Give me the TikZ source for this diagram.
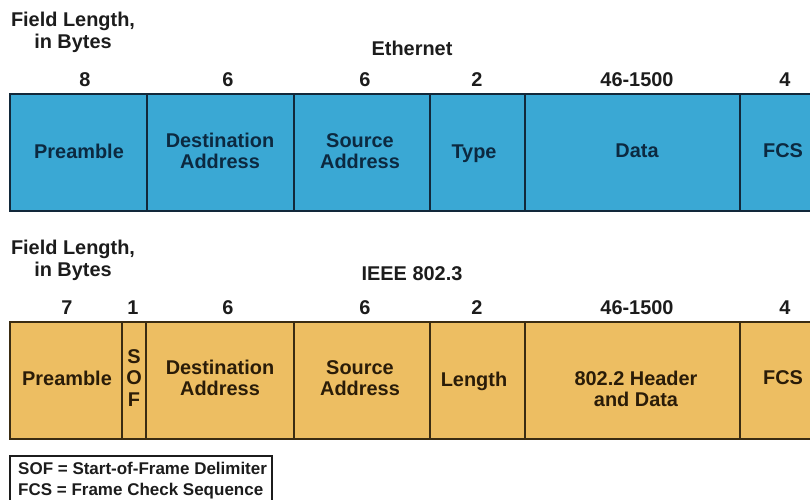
\documentclass[tikz,border=0pt]{standalone}
\usepackage{fontspec}
\setmainfont{Liberation Sans}
\definecolor{ethfill}{HTML}{3AA8D4}
\definecolor{ethline}{HTML}{12283A}
\definecolor{ethtext}{HTML}{0C2940}
\definecolor{ieeefill}{HTML}{EDBE62}
\definecolor{ieeeline}{HTML}{3A2C12}
\definecolor{ieeetext}{HTML}{2A1C08}
\definecolor{headtext}{HTML}{1C1C1C}

\begin{document}
\begin{tikzpicture}[x=0.03cm,y=-0.03cm,
	every node/.style={font=\bfseries\fontsize{17}{18.5}\selectfont,align=center,inner sep=0pt},
	head/.style={text=headtext},
	twoline/.style={font=\bfseries\fontsize{17}{19}\selectfont},
	ethlabel/.style={text=ethtext},
	ieeelabel/.style={text=ieeetext},
	ethbox/.style={draw=ethline,fill=ethfill,line width=1.5pt},
	ieeebox/.style={draw=ieeeline,fill=ieeefill,line width=1.5pt}]
	\useasboundingbox (0,0) rectangle (810,499);
	\clip (0,0) rectangle (810,499);
	
	%Ethernet frame
	\node[head,twoline] (ethhead) at (73,32) {Field Length,\\in Bytes};
	\node[head] (ethname) at (412,48) {Ethernet};
	\node[head] (ethn1) at (85,80) {8};
	\node[head] (ethn2) at (228,80) {6};
	\node[head] (ethn3) at (365,80) {6};
	\node[head] (ethn4) at (477,80) {2};
	\node[head] (ethn5) at (637,80) {46-1500};
	\node[head] (ethn6) at (785,80) {4};
	\filldraw[ethbox] (10,94) rectangle (840,211);	%runs off the right edge
	\draw[ethbox] (147,94)--(147,211);
	\draw[ethbox] (294,94)--(294,211);
	\draw[ethbox] (430,94)--(430,211);
	\draw[ethbox] (525,94)--(525,211);
	\draw[ethbox] (740,94)--(740,211);
	\node[ethlabel] (ethpre) at (79,151) {Preamble};
	\node[ethlabel] (ethdst) at (220,151) {Destination\\Address};
	\node[ethlabel] (ethsrc) at (360,151) {Source\\Address};
	\node[ethlabel] (ethtype) at (474,154) {Type};
	\node[ethlabel] (ethdata) at (637,151) {Data};
	\node[ethlabel] (ethfcs) at (783,151) {FCS};
	
	%IEEE 802.3 frame
	\node[head,twoline] (ieeehead) at (73,260) {Field Length,\\in Bytes};
	\node[head] (ieeename) at (412,274) {IEEE 802.3};
	\node[head] (ieeen1) at (67,308) {7};
	\node[head] (ieeen2) at (133,308) {1};
	\node[head] (ieeen3) at (228,308) {6};
	\node[head] (ieeen4) at (365,308) {6};
	\node[head] (ieeen5) at (477,308) {2};
	\node[head] (ieeen6) at (637,308) {46-1500};
	\node[head] (ieeen7) at (785,308) {4};
	\filldraw[ieeebox] (10,322) rectangle (840,439);
	\draw[ieeebox] (122,322)--(122,439);
	\draw[ieeebox] (146,322)--(146,439);
	\draw[ieeebox] (294,322)--(294,439);
	\draw[ieeebox] (430,322)--(430,439);
	\draw[ieeebox] (525,322)--(525,439);
	\draw[ieeebox] (740,322)--(740,439);
	\node[ieeelabel] (ieeepre) at (67,378) {Preamble};
	\node[ieeelabel] (ieeesof) at (134,378) {S\\O\\F};
	\node[ieeelabel] (ieeedst) at (220,378) {Destination\\Address};
	\node[ieeelabel] (ieeesrc) at (360,378) {Source\\Address};
	\node[ieeelabel] (ieeelen) at (474,381) {Length};
	\node[ieeelabel] (ieeedata) at (636,389) {802.2 Header\\and Data};
	\node[ieeelabel] (ieeefcs) at (783,378) {FCS};
	
	%legend
	\draw[headtext,line width=1.7pt] (10,456) rectangle (272,510);
	\node[head,anchor=west,align=left,font=\bfseries\fontsize{14.5}{18}\selectfont]
		(legend) at (18,481) {SOF = Start-of-Frame Delimiter\\FCS = Frame Check Sequence};
\end{tikzpicture}
\end{document}
